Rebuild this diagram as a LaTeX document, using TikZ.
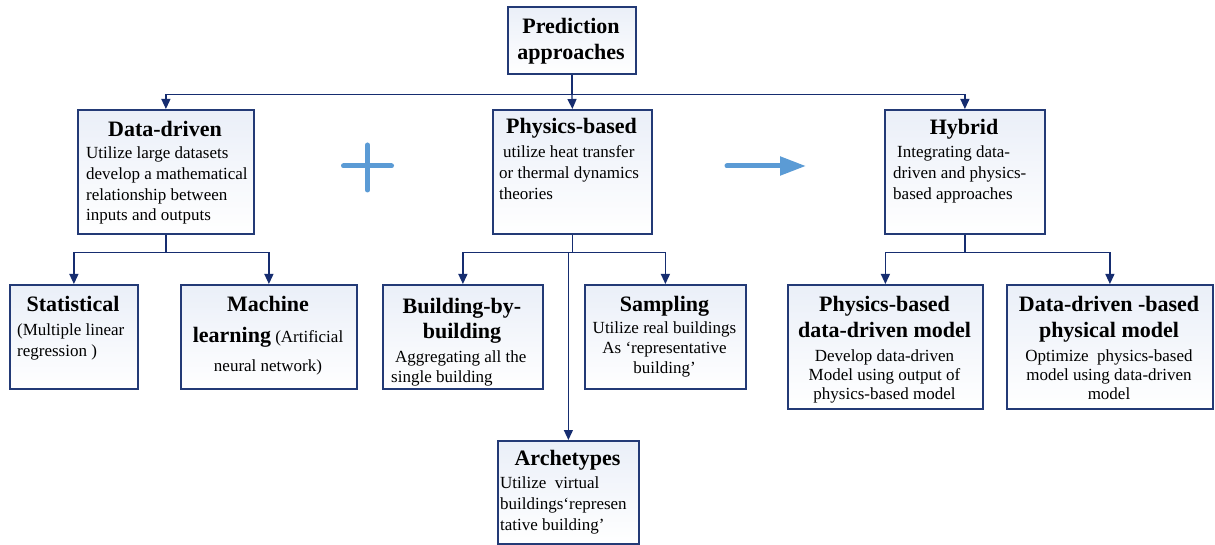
\documentclass[tikz,border=0pt]{standalone}
\usepackage{fontspec}
\setmainfont{Liberation Serif}
\usetikzlibrary{arrows.meta}
\definecolor{boxc}{RGB}{35,58,118}
\definecolor{linec}{RGB}{22,45,112}
\definecolor{accent}{RGB}{91,155,213}
\definecolor{topfill}{RGB}{234,239,248}
\newcommand\hdfont[1]{\fontsize{22}{#1}\selectfont\bfseries}
\newcommand\bdfont[1]{\fontsize{17}{#1}\selectfont}
\begin{document}
\begin{tikzpicture}[x=1pt,y=-1pt,
  box/.style={draw=boxc, line width=1.8pt, top color=topfill, bottom color=white, inner sep=0pt, anchor=north west},
  txt/.style={inner sep=0pt, text=black, anchor=base},
  conn/.style={draw=linec, line width=1.2pt},
  arr/.style={conn, -{Triangle[length=10pt,width=9pt]}},
  deco/.style={draw=accent, line width=5pt}]
\fill[white] (0,0) rectangle (1215,545);
\useasboundingbox (0,0) rectangle (1215,545);

% boxes
\node[box, minimum width=128pt, minimum height=67pt] (pa) at (507,6) {};
\node[box, minimum width=176pt, minimum height=124pt] (dd) at (77,109) {};
\node[box, minimum width=159pt, minimum height=124pt] (pb) at (492,109) {};
\node[box, minimum width=160pt, minimum height=124pt] (hy) at (884,109) {};
\node[box, minimum width=128pt, minimum height=104pt] (st) at (9,284) {};
\node[box, minimum width=176pt, minimum height=104pt] (ml) at (180,284) {};
\node[box, minimum width=160pt, minimum height=104pt] (bb) at (382,284) {};
\node[box, minimum width=161pt, minimum height=104pt] (sa) at (584,284) {};
\node[box, minimum width=195pt, minimum height=124pt] (pd) at (787,284) {};
\node[box, minimum width=206pt, minimum height=124pt] (dp) at (1006,284) {};
\node[box, minimum width=141pt, minimum height=103pt] (ar) at (497,440) {};

% texts (multi-line nodes: base = baseline of last line)
\node[txt, font=\hdfont{26}, align=center] (pat) at (571,60) {Prediction\\approaches};

\node[txt, font=\hdfont{25}] (ddh) at (165,137) {Data-driven};
\node[txt, font=\bdfont{20.7}, align=left, anchor=base west] (ddt) at (86,221) {Utilize large datasets\\develop a mathematical\\relationship between\\inputs and outputs};

\node[txt, font=\hdfont{25}] (pbh) at (571.5,134) {Physics-based};
\node[txt, font=\bdfont{21}, align=left, anchor=base west] (pbt) at (499,200) {\hspace{4pt}utilize heat transfer\\or thermal dynamics\\theories};

\node[txt, font=\hdfont{25}] (hyh) at (964,135) {Hybrid};
\node[txt, font=\bdfont{21}, align=left, anchor=base west] (hyt) at (893,200) {\hspace{4pt}Integrating data-\\driven and physics-\\based approaches};

\node[txt, font=\hdfont{25}] (sth) at (73,312) {Statistical};
\node[txt, font=\bdfont{21}, align=left, anchor=base west] (stt) at (17,356) {(Multiple linear\\regression )};

\node[txt, font=\hdfont{25}] (mlh) at (268,312) {Machine};
\node[txt, font=\bdfont{21}] (mlt) at (268,342) {{\hdfont{25}learning} (Artificial};
\node[txt, font=\bdfont{21}] (mlu) at (268,371) {neural network)};

\node[txt, font=\hdfont{25}, align=center] (bbh) at (462,338) {Building-by-\\building};
\node[txt, font=\bdfont{20}, align=left, anchor=base west] (bbt) at (391,382) {\hspace{4pt}Aggregating all the\\single building};

\node[txt, font=\hdfont{25}] (sah) at (664.5,312) {Sampling};
\node[txt, font=\bdfont{20}, align=center] (sat) at (664.5,373) {Utilize real buildings\\As ‘representative\\building’};

\node[txt, font=\hdfont{25}, align=center] (pdh) at (884.5,337) {Physics-based\\data-driven model};
\node[txt, font=\bdfont{19}, align=center] (pdt) at (884.5,399) {Develop data-driven\\Model using output of\\physics-based model};

\node[txt, font=\hdfont{25}, align=center] (dph) at (1109,337) {Data-driven -based\\physical model};
\node[txt, font=\bdfont{19}, align=center] (dpt) at (1109,399) {Optimize\ \ physics-based\\model using data-driven\\model};

\node[txt, font=\hdfont{25}] (arh) at (567.5,465) {Archetypes};
\node[txt, font=\bdfont{21}, align=left, anchor=base west] (art) at (500,530) {Utilize\ \ virtual\\buildings‘represen\\tative building’};

% connectors
\coordinate (jtop) at ([yshift=-20pt]pa.south);
\draw[conn] (pa.south) -- (jtop);
\draw[arr] (jtop) -| (dd.north);
\draw[arr] (jtop) -| (hy.north);
\draw[arr] (jtop) -- (pb.north);

\coordinate (jdd) at ([yshift=-18pt]dd.south);
\draw[conn] (dd.south) -- (jdd);
\draw[arr] (jdd) -| (st.north);
\draw[arr] (jdd) -| (ml.north);

\coordinate (jpb) at ([yshift=-18pt]pb.south);
\draw[conn] (pb.south) -- (jpb);
\draw[arr] (jpb) -| (bb.north);
\draw[arr] (jpb) -| (sa.north);
\draw[arr] (ar.north |- jpb) -- (ar.north);

\coordinate (jhy) at ([yshift=-18pt]hy.south);
\draw[conn] (hy.south) -- (jhy);
\draw[arr] (jhy) -| (pd.north);
\draw[arr] (jhy) -| (dp.north);

% plus sign and arrow
\coordinate (plusc) at (367.5,166);
\draw[deco, line cap=round] ([xshift=-24pt]plusc) -- ([xshift=24pt]plusc);
\draw[deco, line cap=round] ([yshift=21pt]plusc) -- ([yshift=-24pt]plusc);
\coordinate (bigs) at (727,166);
\coordinate (bige) at (806,166);
\draw[deco, line cap=round, -{Triangle[length=26pt 0 0,width=18pt 0 0]}] (bigs) -- (bige);
\end{tikzpicture}
\end{document}
